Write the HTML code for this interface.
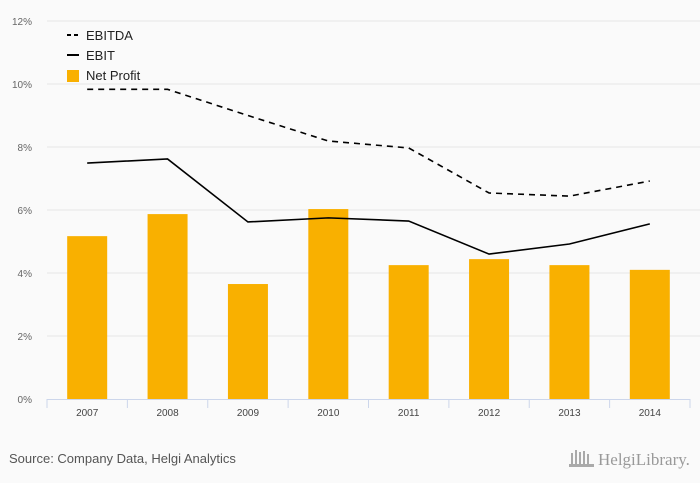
<!DOCTYPE html>
<html><head><meta charset="utf-8"><style>
body{margin:0;background:#fafafa;font-family:"Liberation Sans",sans-serif;}
svg{display:block}
</style></head><body>
<svg id="c" width="700" height="483" xmlns="http://www.w3.org/2000/svg">
<rect width="700" height="483" fill="#fafafa"/>
<g id="grid"></g><g id="bars"></g><g id="lines"></g><g id="axes"></g>
<g>
<line x1="67" y1="35" x2="79" y2="35" stroke="#000" stroke-width="2" stroke-dasharray="4,3"/>
<text x="86" y="40" font-size="13" fill="#222">EBITDA</text>
<line x1="67" y1="55" x2="79" y2="55" stroke="#000" stroke-width="2"/>
<text x="86" y="60" font-size="13" fill="#222">EBIT</text>
<rect x="67" y="70" width="12" height="12" fill="#f9b000"/>
<text x="86" y="80" font-size="13" fill="#222">Net Profit</text>
</g>
<text x="9" y="463" font-size="13" fill="#555">Source: Company Data, Helgi Analytics</text>
<text x="598" y="465" font-size="17" fill="#999" font-family="Liberation Serif,serif">HelgiLibrary.</text>
<g fill="#aaa"><rect x="571" y="453" width="2" height="12"/><rect x="575" y="450" width="2" height="15"/><rect x="579" y="452" width="2" height="13"/><rect x="583" y="451" width="2" height="14"/><rect x="587" y="454" width="2" height="11"/><rect x="569" y="464" width="25" height="3"/></g>
</svg>
<script>
const years=["2007","2008","2009","2010","2011","2012","2013","2014"];
const netProfit=[5.17,5.87,3.65,6.03,4.25,4.44,4.25,4.10];
const ebitda=[9.83,9.83,9.0,8.19,7.97,6.54,6.44,6.92];
const ebit=[7.49,7.62,5.62,5.75,5.65,4.6,4.92,5.56];
const yTicks=[0,2,4,6,8,10,12];
const NS="http://www.w3.org/2000/svg";
const L=47,R=690,T=21,B=399,band=(R-L)/years.length;
const y=v=>B-(v/12)*(B-T);
const x=i=>L+band*(i+0.5);
function mk(tag,attrs,parent,txt){const e=document.createElementNS(NS,tag);for(const k in attrs)e.setAttribute(k,attrs[k]);if(txt!==undefined)e.textContent=txt;document.getElementById(parent).appendChild(e);return e;}
yTicks.forEach(t=>{
 if(t>0){const g=mk('line',{x1:L,x2:700,y1:y(t),y2:y(t),stroke:'#e6e6e6'},'grid');
 
 }
 const l=mk('text',{x:32,y:y(t)+4,'font-size':10,fill:'#666','text-anchor':'end'},'axes',t+'%');
 
 
});
const ax=mk('line',{x1:L,x2:R,y1:B+0.5,y2:B+0.5,stroke:'#ccd6eb'},'axes');


for(let i=0;i<=years.length;i++){const tk=mk('line',{x1:L+band*i,x2:L+band*i,y1:B,y2:B+9,stroke:'#ccd6eb'},'axes');
 
 }
years.forEach((yr,i)=>{
 const l=mk('text',{x:x(i),y:416,'font-size':10,fill:'#444','text-anchor':'middle'},'axes',yr);
 
 
 const b=mk('rect',{x:x(i)-20,y:y(netProfit[i]),width:40,height:B-y(netProfit[i]),fill:'#f9b000'},'bars');
 
 
});
const p1=mk('polyline',{points:ebitda.map((v,i)=>x(i)+','+y(v)).join(' '),fill:'none',stroke:'#000','stroke-width':1.6,'stroke-dasharray':'6,5'},'lines');


const p2=mk('polyline',{points:ebit.map((v,i)=>x(i)+','+y(v)).join(' '),fill:'none',stroke:'#000','stroke-width':1.6},'lines');


</script>
</body></html>
